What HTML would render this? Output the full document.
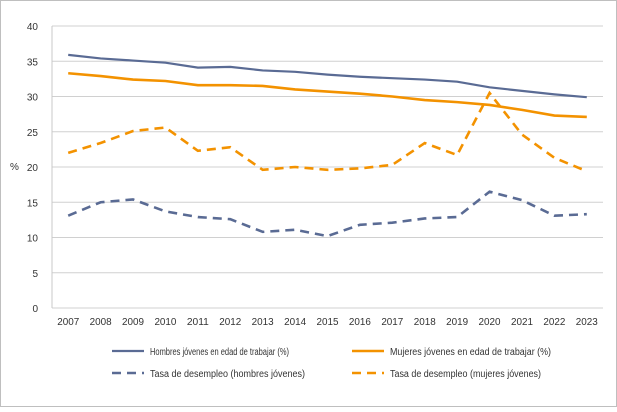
<!DOCTYPE html>
<html><head><meta charset="utf-8"><style>
body{margin:0;background:#fff;font-family:"Liberation Sans",sans-serif;}
svg text{font-family:"Liberation Sans",sans-serif;font-size:10px;fill:#333;}
</style></head><body>
<svg id="chart" width="617" height="407" viewBox="0 0 617 407">
<rect x="0.5" y="0.5" width="616" height="406" fill="#fff" stroke="#bfbfbf"/>
<g id="grid"></g><g id="series"></g><g id="legend"></g>
</svg>
<script>
const years=[2007,2008,2009,2010,2011,2012,2013,2014,2015,2016,2017,2018,2019,2020,2021,2022,2023];
const hombres=[35.9,35.4,35.1,34.8,34.1,34.2,33.7,33.5,33.1,32.8,32.6,32.4,32.1,31.3,30.8,30.3,29.9];
const mujeres=[33.3,32.9,32.4,32.2,31.6,31.6,31.5,31.0,30.7,30.4,30.0,29.5,29.2,28.8,28.1,27.3,27.1];
const tasaHombres=[13.1,15.0,15.4,13.7,12.9,12.6,10.8,11.1,10.2,11.8,12.1,12.7,12.9,16.5,15.3,13.1,13.3];
const tasaMujeres=[22.0,23.4,25.1,25.6,22.3,22.8,19.6,20.0,19.6,19.8,20.3,23.4,21.7,30.5,24.6,21.3,19.4];
const yTicks=[0,5,10,15,20,25,30,35,40];
const NS="http://www.w3.org/2000/svg";
const L=52,R=603,T=26,B=308;
const step=(R-L)/years.length;
const x=i=>L+step*(i+0.5);
const y=v=>B-(v/40)*(B-T);
function mk(tag,attrs,parent){const e=document.createElementNS(NS,tag);for(const k in attrs)e.setAttribute(k,attrs[k]);parent.appendChild(e);return e;}
const grid=document.getElementById('grid');
yTicks.forEach(t=>{
 const l=mk('line',{x1:L,x2:R,y1:y(t),y2:y(t),stroke:'#d0d0d0','stroke-width':1},grid);
 
 
 const tx=mk('text',{x:38,y:y(t)+4,'text-anchor':'end'},grid);tx.textContent=t;
 
 
});
const ax=mk('line',{x1:L,x2:L,y1:T,y2:B,stroke:'#c8c8c8','stroke-width':1},grid);


const yt=mk('text',{x:10,y:170},grid);yt.textContent='%';


years.forEach((yr,i)=>{
 const tx=mk('text',{x:x(i),y:325,'text-anchor':'middle','textLength':22,'lengthAdjust':'spacingAndGlyphs'},grid);tx.textContent=yr;
 
 
});
const S=[
 {d:hombres,c:'#5a6b94',dash:'',w:2.2,name:'series-hombres',label:'Hombres jóvenes en edad de trabajar (%)',tl:139},
 {d:mujeres,c:'#f39200',dash:'',w:2.6,name:'series-mujeres',label:'Mujeres jóvenes en edad de trabajar (%)',tl:161},
 {d:tasaHombres,c:'#5a6b94',dash:'9,6',w:2.6,name:'series-tasa-hombres',label:'Tasa de desempleo (hombres jóvenes)',tl:155},
 {d:tasaMujeres,c:'#f39200',dash:'9,6',w:2.6,name:'series-tasa-mujeres',label:'Tasa de desempleo (mujeres jóvenes)',tl:151}
];
const sg=document.getElementById('series');
S.forEach(s=>{
 const p=mk('polyline',{points:s.d.map((v,i)=>x(i)+','+y(v)).join(' '),fill:'none',stroke:s.c,'stroke-width':s.w,'stroke-dasharray':s.dash},sg);
 
 
});
const lg=document.getElementById('legend');
const pos=[[112,351],[352,351],[112,373],[352,373]];
S.forEach((s,i)=>{
 const [lx,ly]=pos[i];
 const g=mk('g',{},lg);
 
 
 mk('line',{x1:lx,x2:lx+32,y1:ly,y2:ly,stroke:s.c,'stroke-width':s.w,'stroke-dasharray':s.dash},g);
 const t=mk('text',{x:lx+38,y:ly+4,'font-size':'10','textLength':s.tl,'lengthAdjust':'spacingAndGlyphs'},g);t.textContent=s.label;
});
</script>
</body></html>
